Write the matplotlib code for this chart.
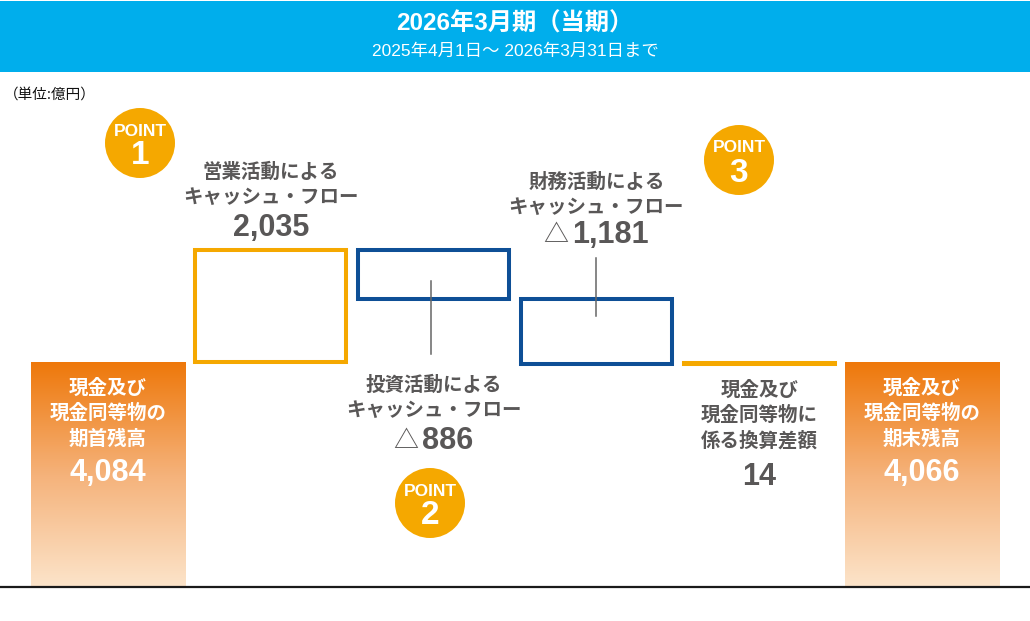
import numpy as np
import matplotlib
matplotlib.use("Agg")
import matplotlib.pyplot as plt
from matplotlib.patches import Rectangle, Circle
from matplotlib.colors import LinearSegmentedColormap

plt.rcParams["font.family"] = ["Noto Sans CJK JP", "DejaVu Sans"]

# --- data ---
TITLE = "2026年3月期（当期）"
PERIOD = "2025年4月1日～ 2026年3月31日まで"
UNIT = "（単位:億円）"

STEP_NAMES = [
    "現金及び\n現金同等物の\n期首残高",
    "営業活動による\nキャッシュ・フロー",
    "投資活動による\nキャッシュ・フロー",
    "財務活動による\nキャッシュ・フロー",
    "現金及び\n現金同等物に\n係る換算差額",
    "現金及び\n現金同等物の\n期末残高",
]
STEP_VALUES = [4084, 2035, -886, -1181, 14, 4066]
STEP_KINDS = ["total", "delta", "delta", "delta", "delta", "total"]
VALUE_LABELS = ["4,084", "2,035", "△886", "△1,181", "14", "4,066"]
POINT_NUMBERS = ["1", "2", "3"]

# --- styles / layout ---
W, H = 1030, 621
BASE_ROW = 587                 # pixel row of the zero line
K = 4084 / 225.0               # value per pixel
STEP_PX = 162.8                # pixel distance between steps
FIRST_PX = 108                 # pixel column of first step

ORANGE = "#F5A800"
BLUE = "#0E4F96"
GRAY = "#595757"
HEADER = "#00AEEC"
NUM_FONT = ["Liberation Sans", "Noto Sans CJK JP", "DejaVu Sans"]
TITLE_FONT = ["Liberation Sans", "Noto Sans CJK JP"]

grad = LinearSegmentedColormap.from_list("cash", ["#FCE4CA", "#F5B27A", "#EE780A"])


def py(row):
    # pixel row -> value units on the chart axes
    return (BASE_ROW - row) * K


fig = plt.figure(figsize=(W / 100, H / 100), dpi=100)
ax = fig.add_axes([0, 0, 1, 1])
ax.set_xlim(-FIRST_PX / STEP_PX, (W - FIRST_PX) / STEP_PX)
ax.set_ylim(py(H), py(0))
ax.axis("off")

# rows for name lines and values (first line centre, value centre)
label_rows = {0: (388, 473), 1: (172, 228), 2: (385, 441),
              3: (182, 235), 4: (390, 477), 5: (388, 473)}
line_gap = 25.5

running = 0
for i, (v, kind) in enumerate(zip(STEP_VALUES, STEP_KINDS)):
    if kind == "total":
        lo, hi = 0, v
        running = v
        w = 0.95
        g = np.linspace(0, 1, 256).reshape(-1, 1)
        ax.imshow(g, cmap=grad, origin="lower", aspect="auto",
                  extent=(i - w / 2, i + w / 2, lo, hi), zorder=1)
        txt_color = "white"
    else:
        start = running
        running += v
        lo, hi = min(start, running), max(start, running)
        w = 0.928
        col = ORANGE if v > 0 else BLUE
        ax.add_patch(Rectangle((i - w / 2, lo), w, hi - lo, fill=False,
                               ec=col, lw=2.9, joinstyle="miter", zorder=2))
        txt_color = GRAY
        # leader lines for the negative steps
        if v < 0 and i == 2:
            ax.plot([i - 0.015, i - 0.015], [lo + 18 * K, lo - 55 * K],
                    color="#666666", lw=1.1, zorder=3)
        elif v < 0:
            ax.plot([i, i], [hi + 41 * K, hi - 17 * K],
                    color="#666666", lw=1.1, zorder=3)

    name_row, val_row = label_rows[i]
    for j, line in enumerate(STEP_NAMES[i].split("\n")):
        ax.text(i, py(name_row + j * line_gap), line, ha="center", va="center",
                fontsize=14, fontweight="bold", color=txt_color, zorder=4)

    label = VALUE_LABELS[i]
    if label.startswith("△"):
        # thin triangle drawn in front of the bold digits
        num = ax.text(i + 14 / STEP_PX, py(val_row), label[1:], ha="center",
                      va="center", fontsize=22, fontweight="bold",
                      color=txt_color, family=NUM_FONT, zorder=4)
        ax.annotate("△", xy=(0, 0.5), xycoords=num, xytext=(-4, 0),
                    textcoords="offset pixels", ha="right", va="center",
                    fontsize=18, color=txt_color, zorder=4)
    else:
        ax.text(i, py(val_row), label, ha="center", va="center",
                fontsize=22, fontweight="bold", color=txt_color,
                family=NUM_FONT, zorder=4)

ax.axhline(0, color="#1a1a1a", lw=1.6, zorder=5)

# --- overlay in pixel coords: header, unit, POINT badges ---
ov = fig.add_axes([0, 0, 1, 1], zorder=3)
ov.set_xlim(0, W)
ov.set_ylim(H, 0)
ov.axis("off")
ov.patch.set_alpha(0)

ov.add_patch(Rectangle((0, 1), W, 71, fc=HEADER, ec="none"))
ov.text(W / 2, 24, TITLE, ha="center", va="center", color="white",
        fontsize=17.5, fontweight="bold", family=TITLE_FONT)
ov.text(W / 2, 51, PERIOD, ha="center", va="center", color="white",
        fontsize=12.5, family=TITLE_FONT)
ov.text(4, 95, UNIT, ha="left", va="center", color="#111111", fontsize=10.5)

badges = [(140, 143), (430, 503), (739, 160)]
for (cx, cy), num in zip(badges, POINT_NUMBERS):
    ov.add_patch(Circle((cx, cy), 35, fc=ORANGE, ec="none"))
    ov.text(cx, cy - 12, "POINT", ha="center", va="center", color="white",
            fontsize=12.5, fontweight="bold", family=NUM_FONT)
    ov.text(cx, cy + 13, num, ha="center", va="center", color="white",
            fontsize=24, fontweight="bold", family=NUM_FONT)

fig.savefig("out.png", dpi=100)
